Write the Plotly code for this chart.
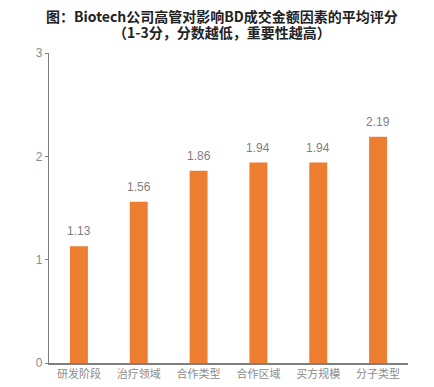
import plotly.graph_objects as go

categories = ["研发阶段", "治疗领域", "合作类型", "合作区域", "买方规模", "分子类型"]
values = [1.13, 1.56, 1.86, 1.94, 1.94, 2.19]
value_labels = ["1.13", "1.56", "1.86", "1.94", "1.94", "2.19"]
y_ticks = [0, 1, 2, 3]
title_lines = ["图：Biotech公司高管对影响BD成交金额因素的平均评分", "（1-3分，分数越低，重要性越高）"]

fig = go.Figure(go.Bar(
    x=categories, y=values, width=0.3,
    marker=dict(color="#ED7D31", line=dict(width=0)),
    hoverinfo="skip",
))

annotations = []
for c, v, t in zip(categories, values, value_labels):
    annotations.append(dict(
        x=c, y=v, xref="x", yref="y", text=t, showarrow=False,
        yanchor="bottom", yshift=6,
        font=dict(size=12, color="#7f7f7f", family="Liberation Sans"),
    ))
plot_top, plot_h, plot_left, plot_w = 53, 310, 49, 359
for line, py in zip(title_lines, [16, 32]):
    annotations.append(dict(
        x=(222 - plot_left) / plot_w, y=1 + (plot_top - py) / plot_h,
        xref="paper", yref="paper", text=line, showarrow=False,
        xanchor="center", yanchor="middle",
        font=dict(size=14, color="#222222", family="Noto Sans CJK SC", weight="bold"),
    ))

# the page body has an 8px margin; compensate so the plot lands where the reference has it
fig.update_layout(
    width=426, height=379,
    margin=dict(l=41, r=26, t=45, b=24),
    paper_bgcolor="white", plot_bgcolor="white",
    font=dict(family="Noto Sans CJK SC", size=11, color="#7f7f7f"),
    showlegend=False,
    annotations=annotations,
)
fig.update_xaxes(
    showline=True, linecolor="#7f7f7f", linewidth=1.5, automargin=False,
    ticks="", showgrid=False, tickfont=dict(size=11, color="#8c8c8c"),
)
fig.update_yaxes(
    range=[0, 3], tickvals=y_ticks, showline=True, linecolor="#7f7f7f", linewidth=1.2,
    ticks="outside", ticklen=3, tickcolor="#7f7f7f", showgrid=False, zeroline=False,
    automargin=False,
    tickfont=dict(size=12, color="#8c8c8c", family="Liberation Sans"),
)

fig.write_html("out.html")
